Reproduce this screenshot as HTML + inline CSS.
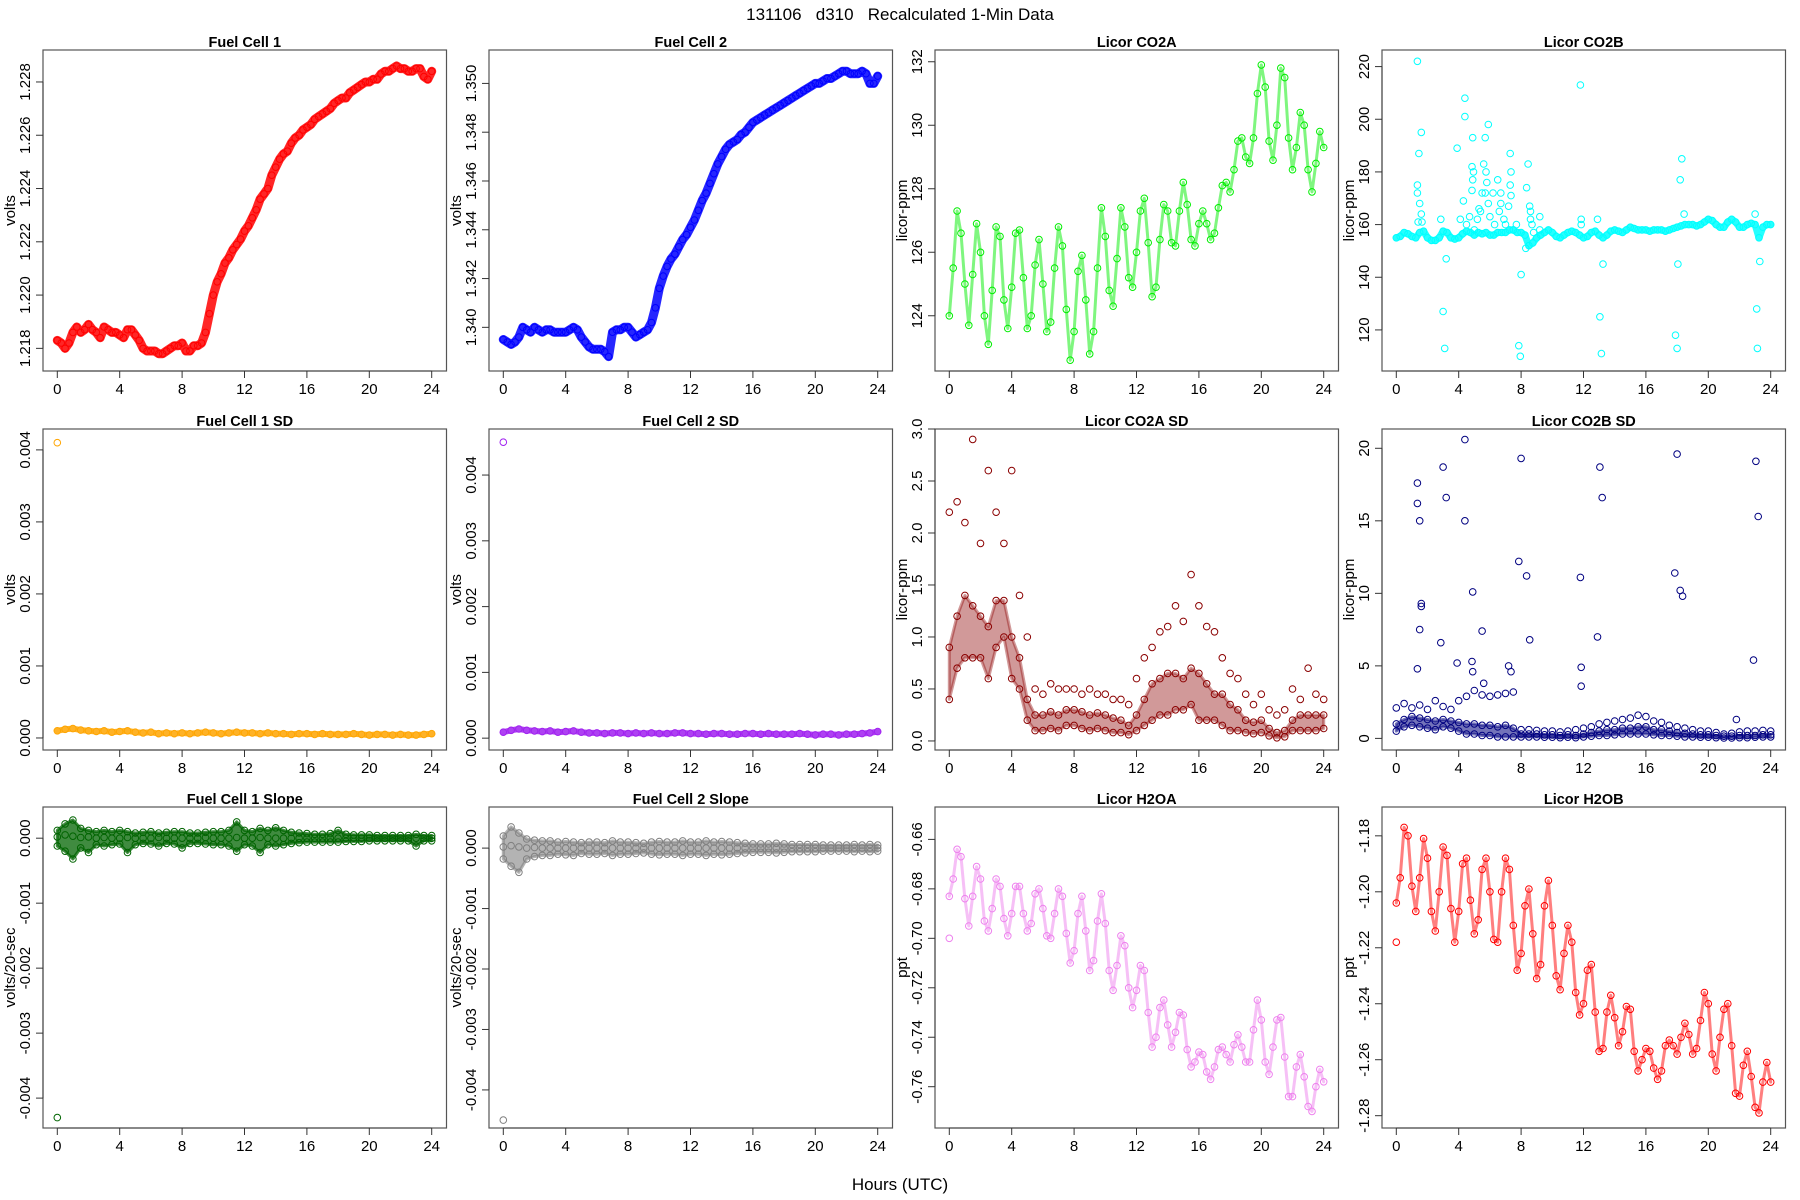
<!DOCTYPE html>
<html><head><meta charset="utf-8"><title>131106 d310 Recalculated 1-Min Data</title>
<style>
html,body{margin:0;padding:0;background:#fff;}
svg{display:block;font-family:"Liberation Sans",Arial,sans-serif;}
</style></head>
<body>
<svg id="fig" width="1800" height="1200" viewBox="0 0 1800 1200" xmlns="http://www.w3.org/2000/svg">
<rect width="1800" height="1200" fill="#fff"/>
<text x="900" y="20" text-anchor="middle" font-size="17" xml:space="preserve">131106   d310   Recalculated 1-Min Data</text>
<text x="900" y="1190" text-anchor="middle" font-size="17">Hours (UTC)</text>
</svg>
<script>
// ---- data (quarter-hour / half-hour readings, hours from 0 to 24) ----
const hourTicks = [0,4,8,12,16,20,24];

const fc1 = [
1.2183,1.2182,1.2180,1.2182, 1.2186,1.2188,1.2186,1.2187, 1.2189,1.2187,1.2186,1.2184, 1.2188,1.2187,1.2186,1.2186,
1.2185,1.2184,1.2187,1.2187, 1.2185,1.2183,1.2180,1.2179, 1.2179,1.2179,1.2178,1.2178, 1.2179,1.2180,1.2181,1.2181,
1.2182,1.2179,1.2179,1.2181, 1.2181,1.2182,1.2186,1.2193, 1.2200,1.2205,1.2208,1.2212, 1.2214,1.2217,1.2219,1.2221,
1.2224,1.2226,1.2229,1.2232, 1.2236,1.2238,1.2240,1.2245, 1.2248,1.2251,1.2253,1.2254, 1.2257,1.2259,1.2260,1.2262,
1.2263,1.2264,1.2266,1.2267, 1.2268,1.2269,1.2270,1.2272, 1.2273,1.2274,1.2274,1.2276, 1.2277,1.2278,1.2279,1.2280,
1.2280,1.2281,1.2281,1.2283, 1.2284,1.2284,1.2285,1.2286, 1.2285,1.2285,1.2284,1.2284, 1.2285,1.2285,1.2282,1.2281, 1.2284];

const fc2 = [
1.3395,1.3394,1.3393,1.3394, 1.3396,1.3400,1.3399,1.3398, 1.3400,1.3399,1.3398,1.3399, 1.3399,1.3398,1.3398,1.3398,
1.3398,1.3399,1.3400,1.3399, 1.3396,1.3394,1.3392,1.3391, 1.3391,1.3391,1.3390,1.3388, 1.3398,1.3399,1.3399,1.3400,
1.3400,1.3398,1.3396,1.3397, 1.3398,1.3399,1.3402,1.3408, 1.3416,1.3421,1.3425,1.3428, 1.3430,1.3433,1.3436,1.3438,
1.3441,1.3444,1.3448,1.3452, 1.3455,1.3459,1.3463,1.3467, 1.3470,1.3473,1.3475,1.3476, 1.3477,1.3479,1.3480,1.3482,
1.3484,1.3485,1.3486,1.3487, 1.3488,1.3489,1.3490,1.3491, 1.3492,1.3493,1.3494,1.3495, 1.3496,1.3497,1.3498,1.3499,
1.3500,1.3500,1.3501,1.3502, 1.3502,1.3503,1.3504,1.3505, 1.3505,1.3504,1.3504,1.3504, 1.3505,1.3504,1.3500,1.3500, 1.3503];

const co2a = [
124.0,125.5,127.3,126.6, 125.0,123.7,125.3,126.9, 126.0,124.0,123.1,124.8, 126.8,126.5,124.5,123.6,
124.9,126.6,126.7,125.2, 123.6,124.0,125.6,126.4, 125.0,123.5,123.8,125.5, 126.8,126.2,124.2,122.6,
123.5,125.4,125.9,124.5, 122.8,123.5,125.5,127.4, 126.5,124.8,124.3,125.8, 127.4,126.8,125.2,124.9,
126.0,127.3,127.7,126.3, 124.6,124.9,126.4,127.5, 127.3,126.3,126.2,127.3, 128.2,127.5,126.4,126.2,
126.9,127.3,126.9,126.4, 126.6,127.4,128.1,128.2, 127.9,128.6,129.5,129.6, 129.0,128.8,129.6,131.0,
131.9,131.2,129.5,128.9, 130.0,131.8,131.5,129.6, 128.6,129.3,130.4,130.0, 128.6,127.9,128.8,129.8, 129.3];

const co2b = [
155,155.5,157,156.5, 155.5,155,157,157.5, 155,154,154,155, 157.5,157,155,154.5,
155,156.5,157.5,157, 156,157,156.5,157, 156,156,157,157, 157,158,158,157,
157,156,152,153, 155,156,157,158, 157,155.5,155,156, 157,157.5,157,156,
155,155.5,157,157.5, 156,155,156,157.5, 158,157.5,157,158, 159,158.5,158,158,
158,157.5,158,158, 158,157.5,158,158.5, 159,159.5,160,160, 160,159.5,160,161,
162,161.5,160,159, 159,161,162,161, 159,159,160,160.5, 160,155,159,160, 160];
const co2bOutHour = [1.35,1.35,1.35,1.45,1.6,1.5,1.6,1.4,1.65,2.85,3.0,3.1,3.2,3.9,4.3,4.4,4.4,4.9,4.85,4.9,4.95,4.85,5.6,5.7,5.9,5.75,5.8,5.5,5.7,5.9,5.4,6.2,6.7,6.7,6.5,7.3,7.35,7.3,7.35,7.2,7.85,7.95,8.0,8.3,8.45,8.35,8.55,8.6,9.2,9.2,11.8,11.85,11.85,12.9,13.05,13.15,13.25,17.9,18.0,18.05,18.2,18.3,18.45,23.0,23.1,23.15,23.3,4.1,4.5,4.7,5.0,5.2,5.3,6.0,6.3,6.6,6.9,7.0,7.5,7.7,8.6,8.7,8.8];
const co2bOutVal = [222,175,172,187,195,168,164,161,161,162,127,113,147,189,169,208,201,193,182,177,180,173,183,193,198,180,176,172,172,168,165,172,172,168,177,187,180,175,171,167,114,110,141,151,183,174,167,165,163,158,213,162,160,162,125,111,145,118,113,145,177,185,164,164,128,113,146,162,160,163,158,162,166,163,160,165,162,160,158,160,162,160,157];

const fc1sd = [0.00010,0.00012,0.00013,0.00011,0.00010,0.00009,0.00010,0.00008,0.00009,0.00010,0.00008,0.00007,0.00008,0.00006,0.00007,0.00006,0.00007,0.00006,0.00007,0.00008,0.00007,0.00006,0.00007,0.00008,0.00007,0.00007,0.00006,0.00007,0.00006,0.00006,0.00005,0.00006,0.00006,0.00005,0.00006,0.00005,0.00005,0.00005,0.00006,0.00005,0.00004,0.00005,0.00005,0.00004,0.00005,0.00004,0.00004,0.00005,0.00006];
const fc1sdOutHour = [0.0];
const fc1sdOutVal = [0.0041];
const fc2sd = [0.00009,0.00012,0.00014,0.00012,0.00011,0.00010,0.00011,0.00009,0.00010,0.00011,0.00009,0.00008,0.00008,0.00007,0.00008,0.00008,0.00007,0.00008,0.00007,0.00008,0.00007,0.00007,0.00008,0.00008,0.00007,0.00007,0.00006,0.00007,0.00007,0.00006,0.00006,0.00007,0.00007,0.00006,0.00007,0.00006,0.00006,0.00006,0.00007,0.00006,0.00005,0.00006,0.00006,0.00005,0.00006,0.00006,0.00007,0.00008,0.00010];
const fc2sdOutHour = [0.0];
const fc2sdOutVal = [0.0045];

const co2aSdMid = [0.9,1.2,1.4,1.3,1.2,1.1,1.35,1.35,1.0,0.8,0.4,0.25,0.25,0.28,0.25,0.3,0.3,0.28,0.25,0.27,0.25,0.22,0.2,0.15,0.25,0.4,0.55,0.6,0.65,0.65,0.6,0.7,0.65,0.55,0.45,0.45,0.35,0.3,0.2,0.18,0.2,0.12,0.08,0.1,0.2,0.25,0.25,0.25,0.25];
const co2aSdLo  = [0.4,0.7,0.8,0.8,0.8,0.6,0.9,1.0,0.6,0.5,0.2,0.1,0.1,0.12,0.1,0.15,0.15,0.12,0.1,0.12,0.1,0.08,0.08,0.06,0.1,0.15,0.2,0.25,0.25,0.3,0.3,0.35,0.2,0.2,0.2,0.15,0.1,0.1,0.08,0.07,0.08,0.05,0.03,0.04,0.1,0.1,0.1,0.1,0.12];
const co2aSdHi  = [2.2,2.3,2.1,2.9,1.9,2.6,2.2,1.9,2.6,1.4,1.0,0.5,0.45,0.55,0.5,0.5,0.5,0.45,0.5,0.45,0.45,0.4,0.4,0.35,0.6,0.8,0.9,1.05,1.1,1.3,1.15,1.6,1.3,1.1,1.05,0.8,0.65,0.6,0.45,0.35,0.45,0.3,0.25,0.3,0.5,0.4,0.7,0.45,0.4];

const co2bSdMid = [1.0,1.3,1.5,1.4,1.3,1.2,1.3,1.2,1.1,1.0,1.0,0.9,0.9,0.8,0.9,0.7,0.3,0.3,0.3,0.25,0.25,0.2,0.25,0.2,0.3,0.4,0.5,0.6,0.6,0.7,0.7,0.8,0.8,0.6,0.6,0.5,0.4,0.35,0.3,0.25,0.25,0.2,0.15,0.15,0.2,0.2,0.2,0.25,0.25];
const co2bSdLo  = [0.5,0.8,0.9,0.8,0.7,0.6,0.8,0.7,0.5,0.3,0.3,0.2,0.2,0.1,0.1,0.1,0.1,0.1,0.1,0.08,0.08,0.05,0.08,0.05,0.1,0.15,0.2,0.2,0.25,0.3,0.3,0.3,0.3,0.25,0.2,0.2,0.15,0.1,0.1,0.08,0.08,0.05,0.03,0.03,0.05,0.05,0.08,0.1,0.1];
const co2bSdHi  = [2.1,2.4,2.1,2.3,2.0,2.6,2.2,2.0,2.6,2.9,3.3,3.0,2.9,3.0,3.1,3.2,0.6,0.6,0.55,0.5,0.5,0.45,0.5,0.6,0.7,0.8,1.0,1.1,1.2,1.3,1.4,1.6,1.5,1.2,1.1,0.9,0.8,0.7,0.6,0.5,0.5,0.4,0.3,0.35,0.45,0.5,0.5,0.55,0.5];
const co2bSdOutHour = [1.35,1.35,1.5,1.6,1.6,1.5,1.35,2.85,3.0,3.2,3.9,4.4,4.4,4.9,4.85,4.9,5.5,5.6,7.2,7.35,7.85,8.0,8.35,8.55,11.8,11.85,11.85,12.9,13.05,13.2,17.85,18.0,18.2,18.35,21.8,22.9,23.05,23.2];
const co2bSdOutVal = [17.6,16.2,15.0,9.3,9.1,7.5,4.8,6.6,18.7,16.6,5.2,20.6,15.0,10.1,5.3,4.6,7.4,3.8,5.0,4.6,12.2,19.3,11.2,6.8,11.1,4.9,3.6,7.0,18.7,16.6,11.4,19.6,10.2,9.8,1.3,5.4,19.1,15.3];

const slope1Mid = [0.00002,0.00005,0.00003,0.00001,0.00002,0.0,0.00001,0.0,0.0,0.00001,0.0,0.0,0.0,0.00001,0.0,0.0,0.0,0.0,0.0,0.00001,0.0,0.0,0.0,0.00001,0.0,0.0,0.00001,0.0,0.0,0.0,0.0,0.0,0.0,0.0,0.0,0.0,0.0,0.0,0.0,0.0,0.0,0.0,0.0,0.0,0.0,0.0,0.0,0.0,0.0];
const slope1Hi  = [0.00012,0.00022,0.00028,0.00015,0.00012,0.00010,0.00012,0.00010,0.00012,0.00010,0.00008,0.00009,0.00010,0.00008,0.00009,0.00010,0.00010,0.00008,0.00008,0.00009,0.00010,0.00010,0.00012,0.00025,0.00012,0.00010,0.00015,0.00012,0.00016,0.00012,0.00009,0.00008,0.00007,0.00006,0.00006,0.00007,0.00012,0.00006,0.00005,0.00005,0.00005,0.00004,0.00004,0.00004,0.00004,0.00004,0.00006,0.00004,0.00004];
const slope1Lo  = [-0.00012,-0.00020,-0.00032,-0.00015,-0.00022,-0.00010,-0.00012,-0.00010,-0.00009,-0.00022,-0.00010,-0.00008,-0.00009,-0.00012,-0.00008,-0.00009,-0.00015,-0.00008,-0.00008,-0.00009,-0.00010,-0.00010,-0.00012,-0.00020,-0.00010,-0.00012,-0.00022,-0.00010,-0.00012,-0.00010,-0.00008,-0.00007,-0.00006,-0.00006,-0.00006,-0.00006,-0.00006,-0.00005,-0.00005,-0.00005,-0.00004,-0.00004,-0.00004,-0.00004,-0.00004,-0.00004,-0.00012,-0.00004,-0.00004];
const slope1OutHour = [0.0];
const slope1OutVal = [-0.0043];

const slope2Mid = [0.00002,0.00004,0.00002,0.0,0.00001,0.0,0.0,0.0,0.0,0.0,0.0,0.0,0.0,0.0,0.0,0.0,0.0,0.0,0.0,0.0,0.0,0.0,0.0,0.0,0.0,0.0,0.0,0.0,0.0,0.0,0.0,0.0,0.0,0.0,0.0,0.0,0.0,0.0,0.0,0.0,0.0,0.0,0.0,0.0,0.0,0.0,0.0,0.0,0.0];
const slope2Hi  = [0.00020,0.00035,0.00025,0.00015,0.00013,0.00012,0.00012,0.00010,0.00011,0.00010,0.00009,0.00010,0.00010,0.00009,0.00012,0.00010,0.00010,0.00009,0.00008,0.00010,0.00011,0.00010,0.00010,0.00012,0.00010,0.00010,0.00012,0.00010,0.00011,0.00010,0.00009,0.00008,0.00007,0.00007,0.00007,0.00008,0.00007,0.00006,0.00006,0.00006,0.00006,0.00005,0.00005,0.00005,0.00005,0.00006,0.00005,0.00006,0.00005];
const slope2Lo  = [-0.00018,-0.00030,-0.00040,-0.00018,-0.00014,-0.00012,-0.00012,-0.00010,-0.00011,-0.00012,-0.00009,-0.00010,-0.00010,-0.00009,-0.00012,-0.00010,-0.00010,-0.00009,-0.00008,-0.00010,-0.00011,-0.00010,-0.00010,-0.00012,-0.00010,-0.00010,-0.00012,-0.00010,-0.00011,-0.00010,-0.00009,-0.00008,-0.00007,-0.00007,-0.00007,-0.00008,-0.00007,-0.00006,-0.00006,-0.00006,-0.00006,-0.00005,-0.00005,-0.00005,-0.00005,-0.00006,-0.00005,-0.00006,-0.00005];
const slope2OutHour = [0.0];
const slope2OutVal = [-0.0045];

const h2oa = [
-0.683,-0.676,-0.664,-0.667, -0.684,-0.695,-0.683,-0.671, -0.676,-0.693,-0.697,-0.688, -0.676,-0.679,-0.692,-0.699,
-0.690,-0.679,-0.679,-0.690, -0.697,-0.694,-0.682,-0.680, -0.688,-0.699,-0.700,-0.690, -0.680,-0.683,-0.698,-0.710,
-0.705,-0.690,-0.683,-0.697, -0.713,-0.709,-0.693,-0.682, -0.694,-0.713,-0.721,-0.711, -0.699,-0.703,-0.720,-0.728,
-0.721,-0.711,-0.713,-0.730, -0.744,-0.740,-0.728,-0.725, -0.735,-0.744,-0.738,-0.730, -0.731,-0.745,-0.752,-0.750,
-0.746,-0.747,-0.754,-0.757, -0.752,-0.745,-0.744,-0.747, -0.750,-0.743,-0.739,-0.744, -0.750,-0.750,-0.737,-0.725,
-0.733,-0.750,-0.755,-0.744, -0.733,-0.732,-0.748,-0.764, -0.764,-0.752,-0.747,-0.756, -0.768,-0.770,-0.760,-0.753, -0.758];
const h2oaOutHour = [0.0];
const h2oaOutVal = [-0.700];

const h2ob = [
-1.204,-1.195,-1.177,-1.180, -1.198,-1.207,-1.195,-1.181, -1.188,-1.207,-1.214,-1.200, -1.184,-1.187,-1.206,-1.218,
-1.207,-1.190,-1.188,-1.203, -1.215,-1.210,-1.192,-1.188, -1.200,-1.217,-1.218,-1.200, -1.188,-1.192,-1.212,-1.228,
-1.222,-1.205,-1.199,-1.215, -1.231,-1.226,-1.205,-1.196, -1.212,-1.230,-1.235,-1.222, -1.212,-1.218,-1.236,-1.244,
-1.240,-1.228,-1.226,-1.243, -1.257,-1.256,-1.243,-1.237, -1.245,-1.255,-1.250,-1.241, -1.242,-1.257,-1.264,-1.260,
-1.256,-1.257,-1.263,-1.267, -1.264,-1.255,-1.253,-1.255, -1.258,-1.252,-1.247,-1.251, -1.258,-1.256,-1.246,-1.236,
-1.240,-1.258,-1.264,-1.252, -1.242,-1.240,-1.255,-1.272, -1.273,-1.262,-1.257,-1.266, -1.277,-1.279,-1.268,-1.261, -1.268];
const h2obOutHour = [0.0];
const h2obOutVal = [-1.218];

const fc1Ticks = [1.218,1.220,1.222,1.224,1.226,1.228];
const fc2Ticks = [1.340,1.342,1.344,1.346,1.348,1.350];
const co2aTicks = [124,126,128,130,132];
const co2bTicks = [120,140,160,180,200,220];
const sdVoltTicks = [0,0.001,0.002,0.003,0.004];
const co2aSdTicks = [0,0.5,1,1.5,2,2.5,3];
const co2bSdTicks = [0,5,10,15,20];
const slopeTicks = [0,-0.001,-0.002,-0.003,-0.004];
const h2oaTicks = [-0.66,-0.68,-0.70,-0.72,-0.74,-0.76];
const h2obTicks = [-1.18,-1.20,-1.22,-1.24,-1.26,-1.28];

// ---- layout ----
const NS = "http://www.w3.org/2000/svg";
const svg = document.getElementById('fig');
const colLeft = [43, 489, 935, 1382];
const rowTop = [50, 429, 807];
const W = 403.5, H = 321;

function mk(tag, attrs, parent){
  const e = document.createElementNS(NS, tag);
  for (const k in attrs) e.setAttribute(k, attrs[k]);
  (parent || svg).appendChild(e);
  return e;
}

function panel(cfg){
  const L = colLeft[cfg.col], T = rowTop[cfg.row];
  const g = mk('g', {});
  
  
  const xs = h => L + 14.3 + h * 15.6;
  const ys = v => T + H - (v - cfg.ymin) / (cfg.ymax - cfg.ymin) * H;
  const t = mk('text', {x: L + W/2, y: T - 3, 'text-anchor':'middle', 'font-size':14.5, 'font-weight':'bold'}, g);
  t.textContent = cfg.title;
  
  
  const box = mk('rect', {x:L, y:T, width:W, height:H, fill:'none', stroke:'#555', 'stroke-width':1.2}, g);
  
  
  const xa = mk('g', {}, g);
  
  
  mk('line', {x1: xs(hourTicks[0]), x2: xs(hourTicks[hourTicks.length-1]), y1: T+H, y2: T+H, stroke:'#333'}, xa);
  hourTicks.forEach(h => {
    mk('line', {x1: xs(h), x2: xs(h), y1: T+H, y2: T+H+7, stroke:'#333'}, xa);
    const lb = mk('text', {x: xs(h), y: T+H+23, 'text-anchor':'middle', 'font-size':15}, xa);
    lb.textContent = h;
    
    
  });
  const ya = mk('g', {}, g);
  
  
  const tk = cfg.ticks;
  mk('line', {x1: L, x2: L, y1: ys(tk[0]), y2: ys(tk[tk.length-1]), stroke:'#333'}, ya);
  tk.forEach(v => {
    const y = ys(v);
    mk('line', {x1: L-7, x2: L, y1: y, y2: y, stroke:'#333'}, ya);
    const lb = mk('text', {x: 0, y: 0, 'text-anchor':'middle', 'font-size':15,
      transform: `translate(${L-13},${y}) rotate(-90)`}, ya);
    lb.textContent = v.toFixed(cfg.dec);
    
    
  });
  const yl = mk('text', {x:0, y:0, 'text-anchor':'middle', 'font-size':15,
    transform: `translate(${L-28},${T+H/2}) rotate(-90)`}, g);
  yl.textContent = cfg.ylab;
  
  
  const mg = mk('g', {fill:'none', stroke: cfg.color, 'stroke-width':1}, g);
  
  
  if (cfg.band) {
    const b = cfg.band, st = b.step;
    let d = b.lo.map((v,i) => (i ? 'L' : 'M') + xs(i*st).toFixed(1) + ',' + ys(v).toFixed(1)).join(' ');
    for (let i = b.hi.length - 1; i >= 0; i--) d += ' L' + xs(i*st).toFixed(1) + ',' + ys(b.hi[i]).toFixed(1);
    d += ' Z';
    const p = mk('path', {d: d, fill: cfg.color, 'fill-opacity': b.opacity, stroke: cfg.color, 'stroke-opacity': b.opacity, 'stroke-width': 3, 'stroke-linejoin':'round'}, mg);
    
    
  }
  (cfg.series || []).forEach(s => {
    const step = s.step;
    if (s.line) {
      const d = s.vals.map((v,i) => (i ? 'L' : 'M') + xs(i*step).toFixed(1) + ',' + ys(v).toFixed(1)).join(' ');
      const p = mk('path', {d: d, fill:'none', stroke: cfg.color, 'stroke-width': s.line, 'stroke-opacity': s.op || 0.85, 'stroke-linejoin':'round', 'stroke-linecap':'round'}, mg);
      
      
    }
    s.vals.forEach((v,i) => {
      const c = mk('circle', {cx: xs(i*step).toFixed(1), cy: ys(v).toFixed(1), r: 3.3}, mg);
      
      
    });
  });
  if (cfg.outH) cfg.outH.forEach((h,i) => {
    const c = mk('circle', {cx: xs(h).toFixed(1), cy: ys(cfg.outV[i]).toFixed(1), r: 3.3}, mg);
    
    
  });
}

panel({name:'fuel-cell-1', title:'Fuel Cell 1', col:0, row:0, color:'#ff0000', ymin:1.21715, ymax:1.2292, ticks:fc1Ticks, dec:3, ylab:'volts',
  series:[{vals:fc1, step:0.25, line:9}]});
panel({name:'fuel-cell-2', title:'Fuel Cell 2', col:1, row:0, color:'#0000ff', ymin:1.33821, ymax:1.35137, ticks:fc2Ticks, dec:3, ylab:'volts',
  series:[{vals:fc2, step:0.25, line:9}]});
panel({name:'licor-co2a', title:'Licor CO2A', col:2, row:0, color:'#00ee00', ymin:122.26, ymax:132.37, ticks:co2aTicks, dec:0, ylab:'licor-ppm',
  series:[{vals:co2a, step:0.25, line:3, op:0.5}]});
panel({name:'licor-co2b', title:'Licor CO2B', col:3, row:0, color:'#00ffff', ymin:104.4, ymax:226.3, ticks:co2bTicks, dec:0, ylab:'licor-ppm',
  series:[{vals:co2b, step:0.25, line:7}], outH:co2bOutHour, outV:co2bOutVal});

panel({name:'fuel-cell-1-sd', title:'Fuel Cell 1 SD', col:0, row:1, color:'#ffa500', ymin:-0.000167, ymax:0.00429, ticks:sdVoltTicks, dec:3, ylab:'volts',
  series:[{vals:fc1sd, step:0.5, line:6}], outH:fc1sdOutHour, outV:fc1sdOutVal});
panel({name:'fuel-cell-2-sd', title:'Fuel Cell 2 SD', col:1, row:1, color:'#a020f0', ymin:-0.00018, ymax:0.0047, ticks:sdVoltTicks, dec:3, ylab:'volts',
  series:[{vals:fc2sd, step:0.5, line:6}], outH:fc2sdOutHour, outV:fc2sdOutVal});
panel({name:'licor-co2a-sd', title:'Licor CO2A SD', col:2, row:1, color:'#8b0000', ymin:-0.087, ymax:3.0, ticks:co2aSdTicks, dec:1, ylab:'licor-ppm',
  band:{lo:co2aSdLo, hi:co2aSdMid, step:0.5, opacity:0.4},
  series:[{vals:co2aSdMid, step:0.5},{vals:co2aSdLo, step:0.5},{vals:co2aSdHi, step:0.5}]});
panel({name:'licor-co2b-sd', title:'Licor CO2B SD', col:3, row:1, color:'#000080', ymin:-0.8, ymax:21.33, ticks:co2bSdTicks, dec:0, ylab:'licor-ppm',
  band:{lo:co2bSdLo, hi:co2bSdMid, step:0.5, opacity:0.55},
  series:[{vals:co2bSdMid, step:0.5},{vals:co2bSdLo, step:0.5},{vals:co2bSdHi, step:0.5}], outH:co2bSdOutHour, outV:co2bSdOutVal});

panel({name:'fuel-cell-1-slope', title:'Fuel Cell 1 Slope', col:0, row:2, color:'#006400', ymin:-0.00446, ymax:0.00048, ticks:slopeTicks, dec:3, ylab:'volts/20-sec',
  band:{lo:slope1Lo, hi:slope1Hi, step:0.5, opacity:0.75},
  series:[{vals:slope1Mid, step:0.5},{vals:slope1Hi, step:0.5},{vals:slope1Lo, step:0.5}], outH:slope1OutHour, outV:slope1OutVal});
panel({name:'fuel-cell-2-slope', title:'Fuel Cell 2 Slope', col:1, row:2, color:'#808080', ymin:-0.00463, ymax:0.00068, ticks:slopeTicks, dec:3, ylab:'volts/20-sec',
  band:{lo:slope2Lo, hi:slope2Hi, step:0.5, opacity:0.6},
  series:[{vals:slope2Mid, step:0.5},{vals:slope2Hi, step:0.5},{vals:slope2Lo, step:0.5}], outH:slope2OutHour, outV:slope2OutVal});
panel({name:'licor-h2oa', title:'Licor H2OA', col:2, row:2, color:'#ee82ee', ymin:-0.7767, ymax:-0.6469, ticks:h2oaTicks, dec:2, ylab:'ppt',
  series:[{vals:h2oa, step:0.25, line:3, op:0.5}], outH:h2oaOutHour, outV:h2oaOutVal});
panel({name:'licor-h2ob', title:'Licor H2OB', col:3, row:2, color:'#ff0000', ymin:-1.2844, ymax:-1.1697, ticks:h2obTicks, dec:2, ylab:'ppt',
  series:[{vals:h2ob, step:0.25, line:3, op:0.5}], outH:h2obOutHour, outV:h2obOutVal});
</script>
</body></html>
